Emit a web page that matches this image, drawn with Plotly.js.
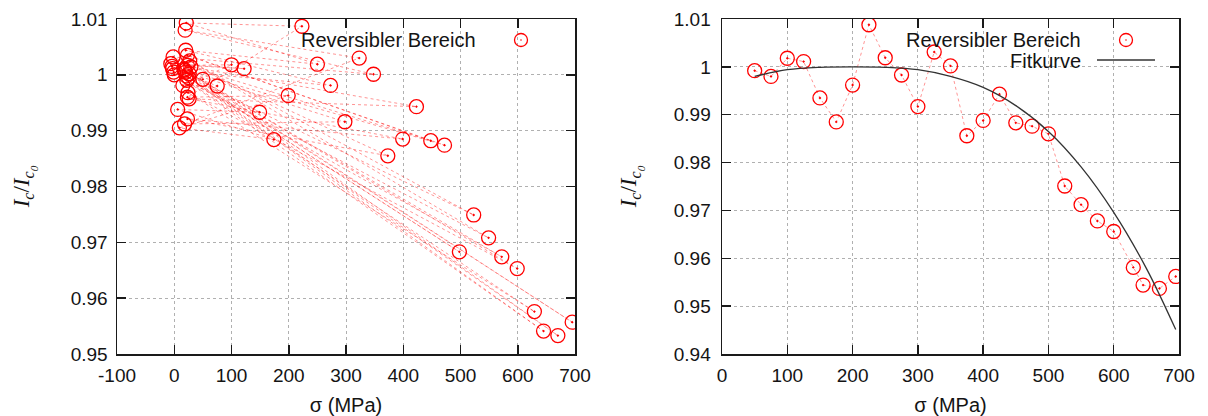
<!DOCTYPE html>
<html>
<head>
<meta charset="utf-8">
<script src="https://cdn.plot.ly/plotly-3.0.1.min.js"></script>
<style>html,body{margin:0;padding:0;background:#fff;}#chart{width:1208px;height:416px;}</style>
</head>
<body>
<div id="chart"></div>
<script>
// Left panel: all measurements in order (loaded / unloaded alternating)
const leftSigma = [0, 50, -3, 75, 15, 100, 23, 122, -6, 149, 6, 174, 9, 199, 23, 223, 21, 250, 20, 273, 20, 298, 18, 323, 19, 348, -2, 373, 23, 399, 26, 423, 29, 448, 23, 472, -4, 498, 25, 523, 27, 549, 22, 572, 18, 599, 24, 629, -1, 645, 21, 670, 26, 695, 17];
const leftRatio = [1.0000, 0.9992, 1.0011, 0.9980, 0.9981, 1.0018, 1.0017, 1.0011, 1.0020, 0.9933, 0.9938, 0.9884, 0.9905, 0.9963, 0.9960, 1.0087, 1.0093, 1.0019, 1.0044, 0.9981, 1.0005, 0.9916, 0.9912, 1.0030, 1.0080, 1.0001, 1.0032, 0.9855, 0.9921, 0.9885, 0.9957, 0.9943, 1.0014, 0.9882, 1.0035, 0.9874, 1.0015, 0.9683, 0.9995, 0.9749, 1.0025, 0.9708, 0.9990, 0.9674, 1.0008, 0.9653, 0.9968, 0.9576, 1.0005, 0.9541, 0.9998, 0.9533, 1.0002, 0.9557, 1.0010];

// Right panel: reversible range
const rightSigma = [50, 75, 100, 125, 150, 175, 200, 225, 250, 275, 300, 325, 350, 375, 400, 425, 450, 475, 500, 525, 550, 575, 600, 630, 645, 670, 695];
const rightRatio = [0.9992, 0.9980, 1.0018, 1.0011, 0.9935, 0.9885, 0.9962, 1.0088, 1.0019, 0.9983, 0.9917, 1.0031, 1.0002, 0.9856, 0.9888, 0.9943, 0.9883, 0.9876, 0.9860, 0.9751, 0.9712, 0.9678, 0.9656, 0.9581, 0.9544, 0.9537, 0.9562];

// Fit curve
const fitSigma = [50, 100, 150, 200, 250, 300, 350, 400, 450, 500, 550, 600, 650, 695];
const fitRatio = [0.9980, 0.9994, 0.9999, 1.0000, 0.9999, 0.9994, 0.9980, 0.9957, 0.9919, 0.9865, 0.9791, 0.9696, 0.9579, 0.9451];

// Tick labels
const leftXTickVals = [-100, 0, 100, 200, 300, 400, 500, 600, 700];
const leftXTickText = ["-100", "0", "100", "200", "300", "400", "500", "600", "700"];
const rightXTickVals = [0, 100, 200, 300, 400, 500, 600, 700];
const rightXTickText = ["0", "100", "200", "300", "400", "500", "600", "700"];
const leftYTickVals = [0.95, 0.96, 0.97, 0.98, 0.99, 1.00, 1.01];
const leftYTickText = ["0.95", "0.96", "0.97", "0.98", "0.99", "1", "1.01"];
const rightYTickVals = [0.94, 0.95, 0.96, 0.97, 0.98, 0.99, 1.00, 1.01];
const rightYTickText = ["0.94", "0.95", "0.96", "0.97", "0.98", "0.99", "1", "1.01"];

const seriesName = "Reversibler Bereich";
const fitName = "Fitkurve";
const xTitle = "σ (MPa)";
const yTitle = "<i>I<sub>c</sub></i>/<i>I<sub>c<sub>0</sub></sub></i>";

const RED = "#ff0000";
const FONT = "Liberation Sans, Arial, sans-serif";
const TXT = "#141414";

const markerStyle = {symbol: "circle-open-dot", size: 14, color: RED, line: {color: RED, width: 1.3}};
const dotLine = {color: "rgba(255,0,0,0.42)", width: 1, dash: "dot"};

const traces = [
  {x: leftSigma, y: leftRatio, xaxis: "x", yaxis: "y", type: "scatter", mode: "lines+markers",
   line: dotLine, marker: markerStyle, name: seriesName, showlegend: false},
  {x: rightSigma, y: rightRatio, xaxis: "x2", yaxis: "y2", type: "scatter", mode: "lines+markers",
   line: dotLine, marker: markerStyle, name: seriesName, showlegend: false},
  {x: fitSigma, y: fitRatio, xaxis: "x2", yaxis: "y2", type: "scatter", mode: "lines",
   line: {color: "#333333", width: 1.3, shape: "spline"}, name: fitName, showlegend: false}
];

function axisBase() {
  return {
    showline: true, linecolor: "#1a1a1a", linewidth: 1.5, mirror: "ticks",
    ticks: "inside", ticklen: 9, tickwidth: 1.5, tickcolor: "#1a1a1a",
    showgrid: true, gridcolor: "#b0b0b0", griddash: "dot", gridwidth: 1,
    zeroline: false, tickfont: {family: FONT, size: 19, color: TXT},
    tickmode: "array", fixedrange: true
  };
}

const layout = {
  width: 1208, height: 416,
  margin: {l: 117, r: 29, t: 19, b: 62},
  paper_bgcolor: "#fff", plot_bgcolor: "#fff",
  showlegend: false,
  font: {family: FONT, size: 19, color: TXT},
  xaxis: Object.assign(axisBase(), {domain: [0, 0.4313], range: [-100, 700], tickvals: leftXTickVals, ticktext: leftXTickText, anchor: "y",
    ticklabelstandoff: 4,
    title: {text: xTitle, font: {family: FONT, size: 20, color: TXT}, standoff: 14}}),
  yaxis: Object.assign(axisBase(), {domain: [0, 1], range: [0.95, 1.01], tickvals: leftYTickVals, ticktext: leftYTickText, anchor: "x",
    ticklabelstandoff: 4,
    title: {text: yTitle, font: {family: "Liberation Serif, serif", size: 23, color: TXT}, standoff: 34}}),
  xaxis2: Object.assign(axisBase(), {domain: [0.5697, 1], range: [0, 700], tickvals: rightXTickVals, ticktext: rightXTickText, anchor: "y2",
    ticklabelstandoff: 4,
    title: {text: xTitle, font: {family: FONT, size: 20, color: TXT}, standoff: 14}}),
  yaxis2: Object.assign(axisBase(), {domain: [0, 1], range: [0.94, 1.01], tickvals: rightYTickVals, ticktext: rightYTickText, anchor: "x2",
    ticklabelstandoff: 6,
    title: {text: yTitle, font: {family: "Liberation Serif, serif", size: 23, color: TXT}, standoff: 30}}),
  annotations: [
    {xref: "paper", yref: "paper", x: (478 - 117) / 1062, y: 1 - (40 - 19) / 335, xanchor: "right", yanchor: "middle",
     text: seriesName, showarrow: false, font: {family: FONT, size: 20, color: TXT}},
    {xref: "paper", yref: "paper", x: (1083 - 117) / 1062, y: 1 - (40 - 19) / 335, xanchor: "right", yanchor: "middle",
     text: seriesName, showarrow: false, font: {family: FONT, size: 20, color: TXT}},
    {xref: "paper", yref: "paper", x: (1083 - 117) / 1062, y: 1 - (61 - 19) / 335, xanchor: "right", yanchor: "middle",
     text: fitName, showarrow: false, font: {family: FONT, size: 20, color: TXT}}
  ],
  shapes: [
    {type: "circle", xref: "paper", yref: "paper", xsizemode: "pixel", ysizemode: "pixel",
     xanchor: (521 - 117) / 1062, yanchor: 1 - (40 - 19) / 335, x0: -6.5, x1: 6.5, y0: -6.5, y1: 6.5,
     line: {color: RED, width: 1.3}},
    {type: "circle", xref: "paper", yref: "paper", xsizemode: "pixel", ysizemode: "pixel",
     xanchor: (521 - 117) / 1062, yanchor: 1 - (40 - 19) / 335, x0: -0.8, x1: 0.8, y0: -0.8, y1: 0.8,
     line: {color: RED, width: 0}, fillcolor: RED},
    {type: "circle", xref: "paper", yref: "paper", xsizemode: "pixel", ysizemode: "pixel",
     xanchor: (1126 - 117) / 1062, yanchor: 1 - (40 - 19) / 335, x0: -6.5, x1: 6.5, y0: -6.5, y1: 6.5,
     line: {color: RED, width: 1.3}},
    {type: "circle", xref: "paper", yref: "paper", xsizemode: "pixel", ysizemode: "pixel",
     xanchor: (1126 - 117) / 1062, yanchor: 1 - (40 - 19) / 335, x0: -0.8, x1: 0.8, y0: -0.8, y1: 0.8,
     line: {color: RED, width: 0}, fillcolor: RED},
    {type: "line", xref: "paper", yref: "paper",
     x0: (1097 - 117) / 1062, x1: (1155 - 117) / 1062, y0: 1 - (60 - 19) / 335, y1: 1 - (60 - 19) / 335,
     line: {color: "#333333", width: 1.3}}
  ]
};

Plotly.newPlot("chart", traces, layout, {staticPlot: true, displayModeBar: false});
</script>
</body>
</html>
